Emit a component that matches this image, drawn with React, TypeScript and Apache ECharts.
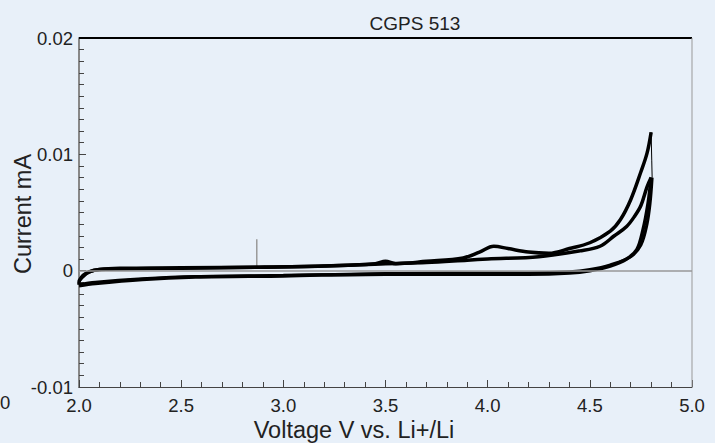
import React, { useEffect, useRef } from "react";
import * as echarts from "echarts";

const title = "CGPS 513";
const xName = "Voltage V vs. Li+/Li";
const yName = "Current mA";
const xTicks = [2.0, 2.5, 3.0, 3.5, 4.0, 4.5, 5.0];
const yTicks = [-0.01, 0, 0.01, 0.02];

// Cycle 1, anodic sweep (voltage V, current mA)
const anodic1: [number, number][] = [
  [2.0, -0.0009], [2.02, -0.0004], [2.05, -0.0001], [2.1, 0.0001], [2.2, 0.0002],
  [2.5, 0.00025], [2.88, 0.0003], [3.2, 0.0004], [3.45, 0.0006], [3.5, 0.0008],
  [3.55, 0.0006], [3.7, 0.0008], [3.88, 0.0011], [3.96, 0.0016], [4.03, 0.0021],
  [4.1, 0.0019], [4.2, 0.0016], [4.3, 0.0015], [4.4, 0.0019], [4.5, 0.0024],
  [4.6, 0.0034], [4.65, 0.0044], [4.7, 0.0061], [4.75, 0.0085], [4.78, 0.0101],
  [4.8, 0.0119],
];
// Cycle 1, steep reversal at the vertex
const vertex1: [number, number][] = [[4.8, 0.0119], [4.803, 0.0095], [4.805, 0.008]];
// Cycle 1, cathodic sweep
const cathodic1: [number, number][] = [
  [4.805, 0.008], [4.795, 0.0058], [4.78, 0.004], [4.75, 0.0022], [4.7, 0.0012],
  [4.6, 0.0005], [4.5, 0.0001], [4.4, -0.0001], [4.2, -0.0002], [4.0, -0.0002],
  [3.8, -0.0002], [3.5, -0.00025], [3.0, -0.0004], [2.57, -0.0005], [2.31, -0.0007],
  [2.08, -0.001], [2.0, -0.0012],
];
// Cycle 2, anodic sweep
const anodic2: [number, number][] = [
  [2.0, -0.0012], [2.0, -0.001], [2.02, -0.0005], [2.05, -0.0001], [2.1, 0.0001],
  [2.2, 0.00015], [2.5, 0.0002], [2.88, 0.0003], [3.2, 0.0004], [3.5, 0.0006],
  [3.7, 0.0007], [3.9, 0.0009], [4.0, 0.001], [4.25, 0.0012], [4.45, 0.0017],
  [4.55, 0.0021], [4.62, 0.003], [4.68, 0.0038], [4.72, 0.0047], [4.75, 0.0056],
  [4.78, 0.0072], [4.8, 0.008],
];
// Cycle 2, cathodic sweep
const cathodic2: [number, number][] = [
  [4.8, 0.008], [4.785, 0.0058], [4.76, 0.0035], [4.73, 0.0018], [4.68, 0.001],
  [4.6, 0.0004], [4.5, 0.0], [4.4, -0.0002], [4.2, -0.0003], [4.0, -0.0003],
  [3.8, -0.0003], [3.5, -0.0003], [3.0, -0.00045], [2.57, -0.00055], [2.31, -0.00075],
  [2.08, -0.0011], [2.0, -0.0013],
];
// Glitch spike
const spike: [number, number][] = [[2.87, 0.0003], [2.87, 0.0027]];

const FONT = "'Liberation Sans', Arial, Helvetica, sans-serif";

export default function App() {
  const ref = useRef<HTMLDivElement>(null);
  useEffect(() => {
    if (!ref.current) return;
    const chart = echarts.init(ref.current, undefined, { renderer: "svg" });
    const lineSeries = (data: [number, number][], width: number, color = "#000", smooth: number | boolean = 0.35) => ({
      type: "line",
      data,
      showSymbol: false,
      symbol: "none",
      smooth,
      lineStyle: { color, width },
      silent: true,
      z: 3,
    });
    chart.setOption({
      animation: false,
      backgroundColor: "#e8f0f9",
      textStyle: { fontFamily: FONT },
      title: {
        text: title,
        left: 410,
        top: 9,
        textAlign: "center",
        textStyle: { fontFamily: FONT, fontSize: 19, fontWeight: "normal", color: "#222" },
      },
      grid: { left: 79, right: 23, top: 38, bottom: 56, show: false, containLabel: false, outerBoundsMode: "none" },
      graphic: [
        { type: "line", shape: { x1: 79, y1: 38, x2: 692, y2: 38 }, style: { stroke: "#000", lineWidth: 2 }, z: 10 },
        { type: "line", shape: { x1: 692, y1: 38, x2: 692, y2: 387 }, style: { stroke: "#999", lineWidth: 1 }, z: 10 },
        {
          type: "text",
          x: 354,
          y: 430,
          style: { text: xName, fontFamily: FONT, fontSize: 23.5, fill: "#222", align: "center", verticalAlign: "middle" },
        },
        {
          type: "text",
          x: 23,
          y: 214,
          rotation: Math.PI / 2,
          style: { text: yName, fontFamily: FONT, fontSize: 23.5, fill: "#222", align: "center", verticalAlign: "middle" },
        },
        {
          type: "text",
          x: 0,
          y: 402,
          style: { text: "0", fontFamily: FONT, fontSize: 18.5, fill: "#222", align: "left", verticalAlign: "middle" },
        },
      ],
      xAxis: {
        type: "value",
        min: xTicks[0],
        max: xTicks[xTicks.length - 1],
        interval: 0.5,
        axisLine: { show: true, onZero: false, lineStyle: { color: "#444", width: 1 } },
        axisTick: { show: true, inside: true, length: 7, lineStyle: { color: "#444" } },
        minorTick: { show: true, splitNumber: 5, length: 5, lineStyle: { color: "#444" } },
        splitLine: { show: false },
        axisLabel: {
          fontFamily: FONT,
          fontSize: 18.5,
          color: "#222",
          margin: 9,
          formatter: (v: number) => v.toFixed(1),
        },
      },
      yAxis: {
        type: "value",
        min: yTicks[0],
        max: yTicks[yTicks.length - 1],
        interval: 0.01,
        axisLine: { show: true, onZero: false, lineStyle: { color: "#888", width: 2 } },
        axisTick: { show: true, inside: true, length: 7, lineStyle: { color: "#444" } },
        minorTick: { show: true, splitNumber: 10, length: 5, lineStyle: { color: "#444" } },
        splitLine: { show: false },
        axisLabel: {
          fontFamily: FONT,
          fontSize: 18.5,
          color: "#222",
          margin: 6,
          formatter: (v: number) => (Math.abs(v) < 1e-9 ? "0" : v.toFixed(2)),
        },
      },
      series: [
        {
          type: "line",
          data: [],
          showSymbol: false,
          markLine: {
            silent: true,
            symbol: "none",
            label: { show: false },
            lineStyle: { color: "#999", width: 1.5, type: "solid" },
            data: [{ yAxis: 0 }],
          },
          z: 2,
        },
        lineSeries(spike, 1.5, "#999", false),
        lineSeries(cathodic2, 3.5),
        lineSeries(anodic2, 3.5),
        lineSeries(cathodic1, 3),
        lineSeries(vertex1, 1, "#000", false),
        lineSeries(anodic1, 3.5),
      ],
    });
    return () => chart.dispose();
  }, []);
  return <div ref={ref} style={{ position: "fixed", left: 0, top: 0, width: 715, height: 443 }} />;
}
